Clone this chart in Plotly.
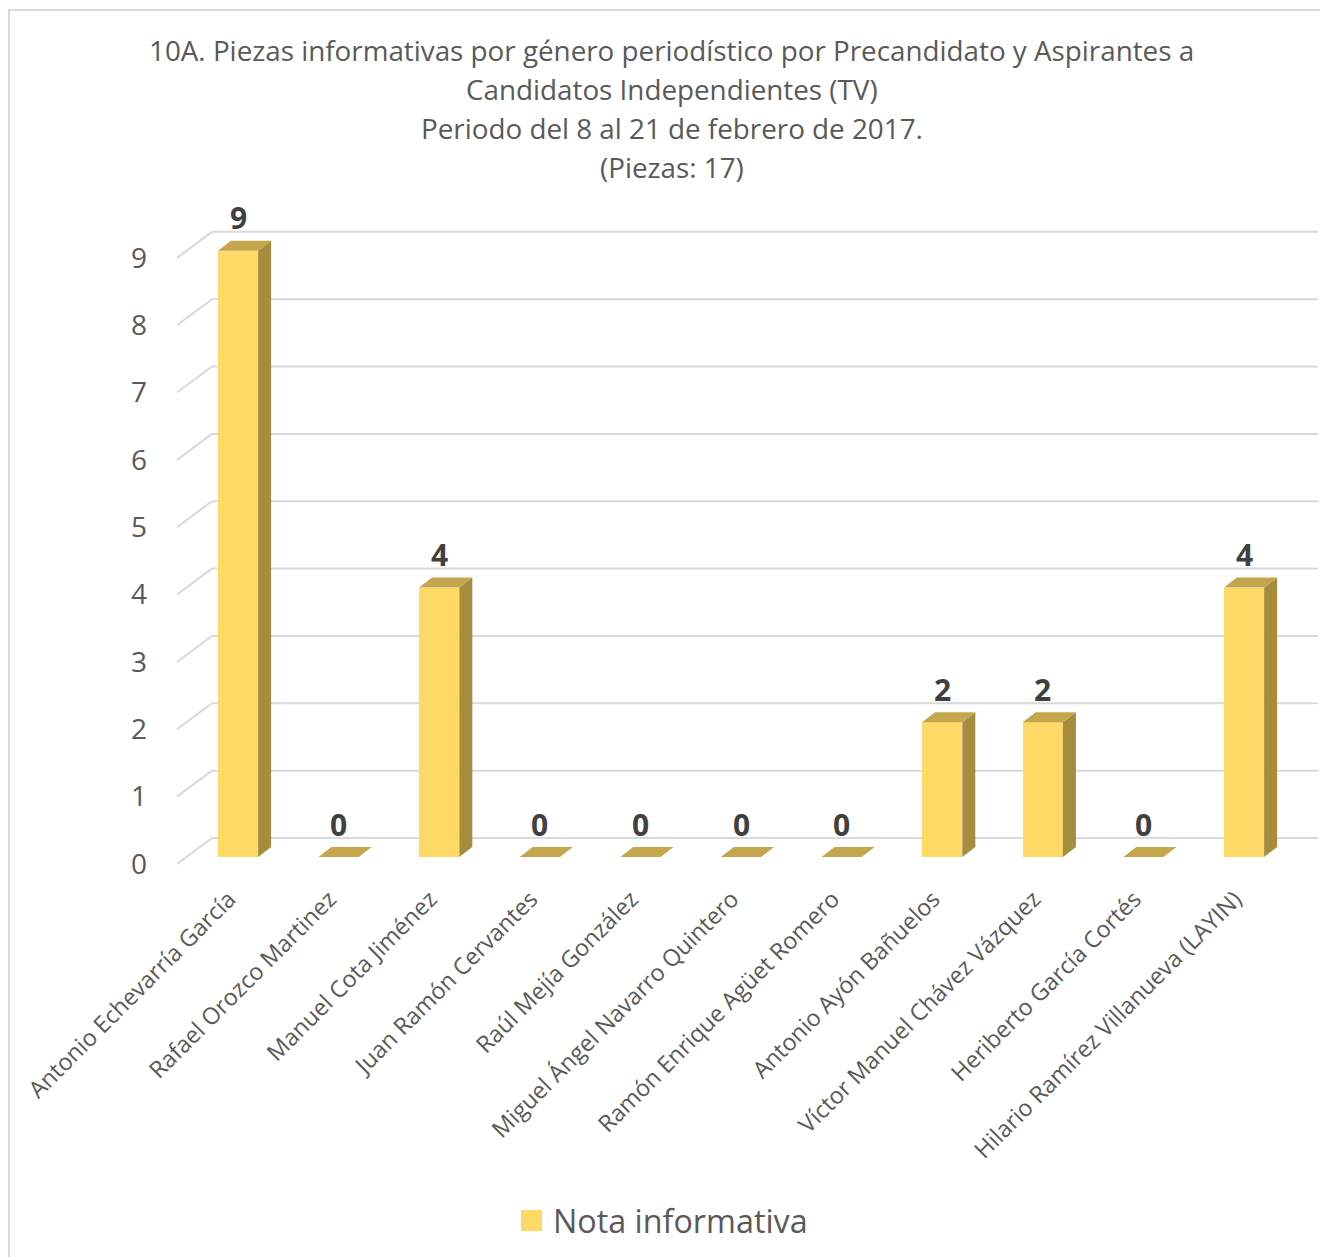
import plotly.graph_objects as go

# ---------------- data ----------------
categories = [
    "Antonio Echevarría García",
    "Rafael Orozco Martinez",
    "Manuel Cota Jiménez",
    "Juan Ramón Cervantes",
    "Raúl Mejía González",
    "Miguel Ángel Navarro Quintero",
    "Ramón Enrique Agüet Romero",
    "Antonio Ayón Bañuelos",
    "Víctor Manuel Chávez Vázquez",
    "Heriberto García Cortés",
    "Hilario Ramírez Villanueva (LAYIN)",
]
values = [9, 0, 4, 0, 0, 0, 0, 2, 2, 0, 4]
series_name = "Nota informativa"
y_ticks = [0, 1, 2, 3, 4, 5, 6, 7, 8, 9]
title_lines = [
    "10A. Piezas informativas por género periodístico por Precandidato y Aspirantes a",
    "Candidatos Independientes (TV)",
    "Periodo del 8 al 21 de febrero de 2017.",
    "(Piezas: 17)",
]

# ---------------- layout geometry ----------------
OFF = 8                      # page margin of the host document
W, H = 1320, 1249
# plot area in screen pixels
PL, PR, PT, PB = 160, 1320, 195, 880
ML, MR, MT, MB = PL - OFF, W - (PR - OFF), PT - OFF, H - (PB - OFF)
PW, PH = W - ML - MR, H - MT - MB
X0PX, XSTEP = 238.0, 100.6       # screen px of category 0 and category spacing
Y0PX, YSTEP = 857.0, 67.35       # screen px of value 0 and unit spacing
xr = [(PL - X0PX) / XSTEP, (PR - X0PX) / XSTEP]
yr = [(Y0PX - PB) / YSTEP, (Y0PX - PT) / YSTEP]

def px2x(p):
    return (p - PL) / PW

def py2y(p):
    return (PB - p) / PH

FRONT_C = "#FFD966"
SIDE_C = "#A68D3E"
TOP_C = "#C4A64C"
GRID_C = "#D9D9D9"
TXT_C = "#595959"
FONT = "'Open Sans', Lato, sans-serif"

BW = 0.40                  # bar width (category units)
DX, DY = 13 / XSTEP, 10 / YSTEP   # bar depth offset
WDX_F, WDX_B = (177 - X0PX) / XSTEP, (212 - X0PX) / XSTEP
GY_F, GY_B = -7 / YSTEP, 19 / YSTEP
XRIGHT = (1318 - X0PX) / XSTEP
XLAB_SHIFT = -9 / XSTEP

fig = go.Figure()

shapes = []
for v in y_ticks:
    shapes.append(dict(type="line", xref="x", yref="y", layer="below",
                       x0=WDX_F, y0=v + GY_F, x1=WDX_B, y1=v + GY_B,
                       line=dict(color=GRID_C, width=2)))
    shapes.append(dict(type="line", xref="x", yref="y", layer="below",
                       x0=WDX_B, y0=v + GY_B, x1=XRIGHT, y1=v + GY_B,
                       line=dict(color=GRID_C, width=2)))

# outer border
shapes.append(dict(type="rect", xref="paper", yref="paper", layer="below",
                   x0=px2x(9), y0=py2y(1275), x1=px2x(1345), y1=py2y(10),
                   line=dict(color=GRID_C, width=2), fillcolor="rgba(0,0,0,0)"))
# legend swatch
shapes.append(dict(type="rect", xref="paper", yref="paper",
                   x0=px2x(521), y0=py2y(1231), x1=px2x(542), y1=py2y(1210),
                   line=dict(width=0), fillcolor=FRONT_C))

xs = list(range(len(categories)))

# front faces
fig.add_trace(go.Bar(x=xs, y=values, width=BW, marker=dict(color=FRONT_C, line=dict(width=0)),
                     name=series_name, showlegend=False, hoverinfo="x+y"))

# side faces
sx, sy = [], []
for i, v in zip(xs, values):
    if v > 0:
        r = i + BW / 2
        sx += [r, r, r + DX, r + DX, r, None]
        sy += [0, v, v + DY, DY, 0, None]
fig.add_trace(go.Scatter(x=sx, y=sy, mode="lines", fill="toself", fillcolor=SIDE_C,
                         line=dict(width=0, color=SIDE_C), showlegend=False, hoverinfo="skip"))
# top faces
tx, ty = [], []
for i, v in zip(xs, values):
    l, r = i - BW / 2, i + BW / 2
    tx += [l, r, r + DX, l + DX, l, None]
    ty += [v, v, v + DY, v + DY, v, None]
fig.add_trace(go.Scatter(x=tx, y=ty, mode="lines", fill="toself", fillcolor=TOP_C,
                         line=dict(width=0, color=TOP_C), showlegend=False, hoverinfo="skip"))

annotations = []
for i, v in zip(xs, values):
    annotations.append(dict(x=i, y=v, xref="x", yref="y", text=f"<b>{v}</b>", showarrow=False,
                            yshift=33, yanchor="middle", xanchor="center",
                            font=dict(size=30, color="#404040", family=FONT)))
for k, line in enumerate(title_lines):
    annotations.append(dict(x=px2x(671.5), y=py2y(50 + 39 * k), xref="paper", yref="paper",
                            text=line, showarrow=False, xanchor="center", yanchor="middle",
                            font=dict(size=27.8, color=TXT_C, family=FONT)))
annotations.append(dict(x=px2x(551), y=py2y(1220), xref="paper", yref="paper", text=series_name,
                        showarrow=False, xanchor="left", yanchor="middle",
                        font=dict(size=32.3, color=TXT_C, family=FONT)))

fig.update_layout(
    width=W, height=H,
    margin=dict(l=ML, r=MR, t=MT, b=MB, pad=0),
    paper_bgcolor="white", plot_bgcolor="white",
    shapes=shapes, annotations=annotations,
    showlegend=False,
    font=dict(family=FONT, color=TXT_C),
    bargap=0,
)
fig.update_xaxes(range=xr, tickmode="array", tickvals=[i + XLAB_SHIFT for i in xs],
                 ticktext=categories,
                 tickangle=-45, showgrid=False, zeroline=False, showline=False, ticks="",
                 tickfont=dict(size=23.3, color=TXT_C, family=FONT))
fig.update_yaxes(range=yr, tickmode="array", tickvals=[v + GY_F for v in y_ticks],
                 ticktext=[str(v) for v in y_ticks], showgrid=False, zeroline=False,
                 showline=False, ticks="", ticklabelstandoff=12,
                 tickfont=dict(size=28, color=TXT_C, family=FONT))

fig.write_html("out.html")
